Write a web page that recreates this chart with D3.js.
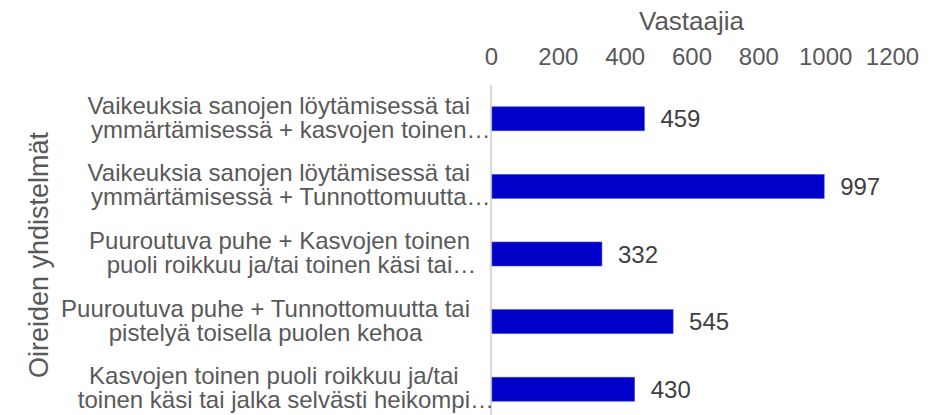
<!DOCTYPE html>
<html>
<head>
<meta charset="utf-8">
<script src="https://cdn.jsdelivr.net/npm/d3@7"></script>
<style>
  html, body { margin: 0; padding: 0; background: #fff; }
  svg { display: block; font-family: "Liberation Sans", Arial, sans-serif; }
</style>
</head>
<body>
<svg id="chart" width="943" height="415"></svg>
<script>
const categories = [
  ["Vaikeuksia sanojen löytämisessä tai", "ymmärtämisessä + kasvojen toinen…"],
  ["Vaikeuksia sanojen löytämisessä tai", "ymmärtämisessä + Tunnottomuutta…"],
  ["Puuroutuva puhe + Kasvojen toinen", "puoli roikkuu ja/tai toinen käsi tai…"],
  ["Puuroutuva puhe + Tunnottomuutta tai", "pistelyä toisella puolen kehoa"],
  ["Kasvojen toinen puoli roikkuu ja/tai", "toinen käsi tai jalka selvästi heikompi…"]
];
const values = [459, 997, 332, 545, 430];
const xTicks = [0, 200, 400, 600, 800, 1000, 1200];
const xTitle = "Vastaajia";
const yTitle = "Oireiden yhdistelmät";

(function () {
const svg = d3.select("#chart");
const pL = 491, pR = 892, pT = 85, pB = 423;

const x = d3.scaleLinear().domain([0, 1200]).range([pL, pR]);
const y = d3.scaleBand().domain(d3.range(categories.length)).range([pT, pB]).paddingInner(0.645).paddingOuter(0.3225);

// x title
svg.append("text").attr("x", (pL + pR) / 2).attr("y", 30)
  .attr("text-anchor", "middle").attr("font-size", 26).attr("fill", "#595959").text(xTitle);

// x axis (top)
const xAxis = d3.axisTop(x).tickValues(xTicks).tickSize(0).tickPadding(0).tickFormat(d3.format("d"));
const gx = svg.append("g").attr("transform", "translate(0,65)").call(xAxis);
gx.select(".domain").remove();
gx.selectAll("text").attr("font-size", 24).attr("fill", "#595959")
  .attr("font-family", "Liberation Sans, Arial, sans-serif").attr("dy", 0);

// y axis line
const yAxis = d3.axisLeft(y).tickSize(0).tickFormat("");
const gy = svg.append("g").attr("transform", `translate(${pL},0)`).call(yAxis);
gy.select(".domain").attr("stroke", "#D9D9D9").attr("stroke-width", 2)
  .attr("d", `M0,${pT}V415`);

// bars
svg.append("g").selectAll("rect").data(values).join("rect")
  .attr("x", x(0) + 1)
  .attr("y", (d, i) => y(i))
  .attr("width", d => x(d) - x(0) - 1)
  .attr("height", y.bandwidth())
  .attr("fill", "#0000C8")
  .attr("stroke", "#4A4AE0").attr("stroke-width", 0.6);

// value labels
svg.append("g").selectAll("text").data(values).join("text")
  .attr("x", d => x(d) + 16)
  .attr("y", (d, i) => y(i) + y.bandwidth() / 2 + 8.5)
  .attr("font-size", 24).attr("fill", "#404040")
  .text(d => d);

// category labels: block right-aligned at 470, lines centered in block (ellipsis overhangs)
const labG = svg.append("g");
categories.forEach((lines, i) => {
  const cy = y(i) + y.bandwidth() / 2;
  const widths = lines.map(l => {
    const base = l.replace(/…$/, "");
    const t = labG.append("text").attr("font-size", 24).text(base);
    const w = t.node().getComputedTextLength();
    t.remove();
    return w;
  });
  const blockW = Math.max(...widths);
  const center = 470 - blockW / 2;
  const txt = labG.append("text").attr("font-size", 24).attr("fill", "#595959");
  lines.forEach((l, j) => {
    txt.append("tspan")
      .attr("x", center - widths[j] / 2)
      .attr("y", cy - 5 + j * 24)
      .text(l);
  });
});

// y title
svg.append("text")
  .attr("transform", "translate(48,255) rotate(-90)")
  .attr("text-anchor", "middle").attr("font-size", 27).attr("fill", "#595959")
  .text(yTitle);
})();
</script>
</body>
</html>
